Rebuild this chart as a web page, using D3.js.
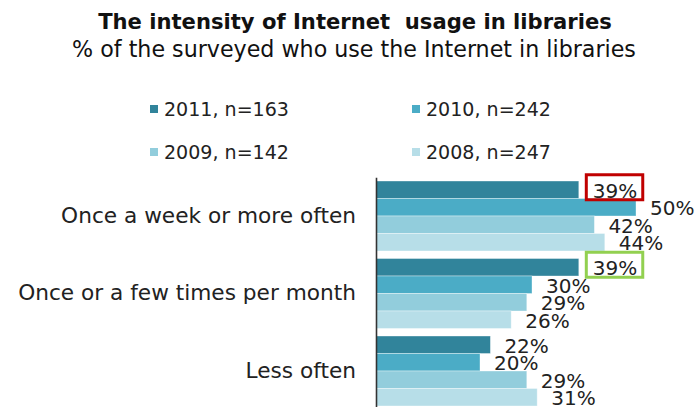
<!DOCTYPE html>
<html>
<head>
<meta charset="utf-8">
<script src="https://cdn.jsdelivr.net/npm/d3@7"></script>
<style>
  html, body { margin: 0; padding: 0; background: #fff; }
  svg { display: block; font-family: "DejaVu Sans", Verdana, sans-serif; }
</style>
</head>
<body>
<svg id="chart" width="696" height="407"></svg>
<script>
const titleText = "The intensity of Internet  usage in libraries";
const subtitleText = "% of the surveyed who use the Internet in libraries";
const categories = ["Once a week or more often", "Once or a few times per month", "Less often"];
const seriesNames = ["2011, n=163", "2010, n=242", "2009, n=142", "2008, n=247"];
const values2011 = [39, 39, 22];
const values2010 = [50, 30, 20];
const values2009 = [42, 29, 29];
const values2008 = [44, 26, 31];
const seriesColors = ["#31849b", "#4bacc6", "#92cddc", "#b7dee8"];
const highlights = [
  { category: 0, series: 0, color: "#c00000" },
  { category: 1, series: 0, color: "#92d050" }
];

const allValues = [values2011, values2010, values2009, values2008];
const table = [];
categories.forEach((c, ci) => {
  seriesNames.forEach((s, si) => {
    table.push({ category: c, ci, series: s, si, value: allValues[si][ci] });
  });
});

const svg = d3.select("#chart");

function fitWidth(sel, target) {
  const len = sel.node().getComputedTextLength();
  const cur = parseFloat(sel.attr("font-size"));
  sel.attr("font-size", cur * target / len);
}

// Title
const title = svg.append("text")
  .attr("x", 355).attr("y", 29)
  .attr("text-anchor", "middle")
  .attr("font-weight", "bold")
  .attr("font-size", 20)
  .attr("fill", "#111")
  .style("white-space", "pre")
  .text(titleText);
fitWidth(title, 514);

const subtitle = svg.append("text")
  .attr("x", 354).attr("y", 57)
  .attr("text-anchor", "middle")
  .attr("font-size", 20)
  .attr("fill", "#111")
  .text(subtitleText);
fitWidth(subtitle, 564);

// Legend
const legendPos = [
  { x: 150, y: 109 }, { x: 412, y: 109 },
  { x: 150, y: 152 }, { x: 412, y: 152 }
];
const legend = svg.append("g");
let legendSize = 19;
seriesNames.forEach((s, i) => {
  const g = legend.append("g").attr("transform", `translate(${legendPos[i].x},${legendPos[i].y})`);
  g.append("rect").attr("x", 0).attr("y", -4).attr("width", 8).attr("height", 8)
    .attr("fill", seriesColors[i]);
  const t = g.append("text").attr("x", 14).attr("y", 0).attr("dy", "0.36em")
    .attr("font-size", legendSize).attr("fill", "#222").text(s);
  if (i === 0) { fitWidth(t, 125); legendSize = parseFloat(t.attr("font-size")); }
});

// Scales
const x = d3.scaleLinear().domain([0, 60]).range([376, 376 + 312]);
const y = d3.scaleBand().domain(categories)
  .range([177.25, 409.75]).paddingInner(0.097).paddingOuter(0.0485);
const yInner = d3.scaleBand().domain(seriesNames).range([0, y.bandwidth()]);
const color = d3.scaleOrdinal().domain(seriesNames).range(seriesColors);

// Bars
svg.append("g").selectAll("rect")
  .data(table)
  .join("rect")
  .attr("x", x(0))
  .attr("y", d => y(d.category) + yInner(d.series))
  .attr("width", d => x(d.value) - x(0))
  .attr("height", yInner.bandwidth())
  .attr("fill", d => color(d.series))
  .attr("stroke", "#fff")
  .attr("stroke-opacity", 0.45)
  .attr("stroke-width", 0.8);

// Data labels
const labels = svg.append("g").selectAll("text")
  .data(table)
  .join("text")
  .attr("x", d => x(d.value) + 14)
  .attr("y", d => y(d.category) + yInner(d.series) + yInner.bandwidth() / 2 + 1)
  .attr("dy", "0.36em")
  .attr("font-size", 20)
  .attr("fill", "#222")
  .text(d => d.value + "%");

// Highlight boxes
highlights.forEach(h => {
  const d = table.find(r => r.ci === h.category && r.si === h.series);
  const lx = x(d.value) + 14;
  const cy = y(d.category) + yInner(d.series) + yInner.bandwidth() / 2 + 1;
  const w = labels.filter(r => r === d).node().getComputedTextLength();
  svg.append("rect")
    .attr("x", lx - 6.5)
    .attr("y", cy - 16)
    .attr("width", w + 12)
    .attr("height", 25)
    .attr("fill", "none")
    .attr("stroke", h.color)
    .attr("stroke-width", 3);
});

// Axis
const axis = svg.append("g")
  .attr("transform", `translate(${x(0)},0)`)
  .call(d3.axisLeft(y).tickSize(0).tickPadding(20));
axis.select(".domain").attr("stroke", "#333").attr("stroke-width", 1.6);
axis.selectAll(".tick text")
  .attr("font-family", "DejaVu Sans, Verdana, sans-serif")
  .attr("fill", "#222")
  .attr("font-size", 20);
const longest = axis.selectAll(".tick text").filter(d => d === categories[1]);
fitWidth(longest, 338);
const catSize = longest.attr("font-size");
axis.selectAll(".tick text").attr("font-size", catSize);
</script>
</body>
</html>
